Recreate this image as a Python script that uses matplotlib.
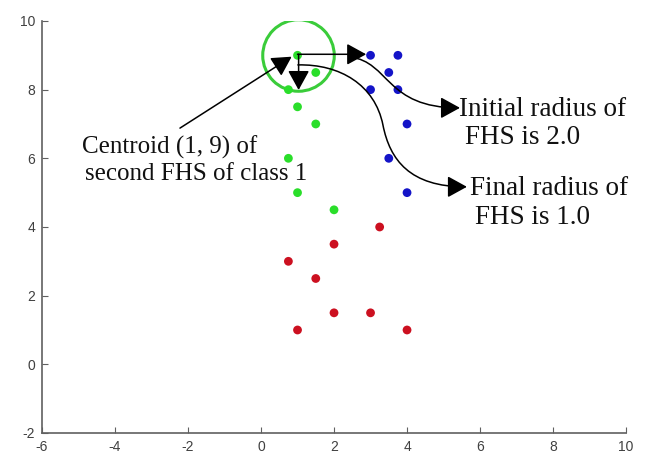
import numpy as np
import matplotlib
matplotlib.use("Agg")
import matplotlib.pyplot as plt
from matplotlib.patches import FancyArrowPatch
from matplotlib.path import Path

# class points
green_x = [1, 1.5, 0.75, 1, 1.5, 0.75, 1, 2]
green_y = [9, 8.5, 8, 7.5, 7, 6, 5, 4.5]
blue_x = [3, 3.75, 3.5, 3, 3.75, 4, 3.5, 4]
blue_y = [9, 9, 8.5, 8, 8, 7, 6, 5]
red_x = [3.25, 2, 0.75, 1.5, 2, 3, 1, 4]
red_y = [4, 3.5, 3, 2.5, 1.5, 1.5, 1, 1]

centroid = (1, 9)
xticks = [-6, -4, -2, 0, 2, 4, 6, 8, 10]
yticks = [-2, 0, 2, 4, 6, 8, 10]

plt.rcParams["axes.unicode_minus"] = False

fig = plt.figure(figsize=(6.6, 4.58), dpi=100)
ax = fig.add_axes([0.0636, 0.0546, 0.885, 0.8996])

ax.scatter(green_x, green_y, s=40, color="#2ade2a", edgecolors="none", zorder=3)
ax.scatter(blue_x, blue_y, s=40, color="#1414c8", edgecolors="none", zorder=3)
ax.scatter(red_x, red_y, s=40, color="#cc1020", edgecolors="none", zorder=3)

# the FHS circle around the centroid
ax.plot(*centroid, marker="o", markersize=51.5, markerfacecolor="none",
        markeredgecolor="#3acc3a", markeredgewidth=2.2, zorder=2)

ax.set_xlim(-6, 10)
ax.set_ylim(-2, 10)
ax.set_xticks(xticks)
ax.set_yticks(yticks)
for s in ["top", "right"]:
    ax.spines[s].set_visible(False)
for s in ["left", "bottom"]:
    ax.spines[s].set_color("#606060")
    ax.spines[s].set_linewidth(1.2)
ax.tick_params(direction="in", length=4, colors="#606060", labelsize=10,
               labelcolor="#404040", pad=5)
for lab in ax.get_xticklabels() + ax.get_yticklabels():
    lab.set_family("Liberation Sans")

head = "-|>,head_length=0.4,head_width=0.22"
arrow_kw = dict(arrowstyle=head, mutation_scale=30, color="black", lw=1.1,
                zorder=4, shrinkA=0, shrinkB=0)

# straight arrows from the centroid
ax.add_patch(FancyArrowPatch((1.0, 9.03), (2.88, 9.03), **arrow_kw))
ax.add_patch(FancyArrowPatch((1.03, 9.03), (1.03, 7.99), **arrow_kw))
ax.add_patch(FancyArrowPatch((-2.22, 6.88), (0.84, 8.96), **arrow_kw))

# curved arrows to the radius notes
p1 = Path([(2.44, 8.95), (3.53, 8.81), (3.40, 7.47), (5.45, 7.47)],
          [Path.MOVETO, Path.CURVE4, Path.CURVE4, Path.CURVE4])
ax.add_patch(FancyArrowPatch(path=p1, **arrow_kw))
p2 = Path([(1.01, 8.72), (2.16, 8.75), (3.12, 8.14), (3.34, 6.97),
           (3.53, 5.95), (4.08, 5.17), (5.64, 5.17)],
          [Path.MOVETO, Path.CURVE4, Path.CURVE4, Path.CURVE4,
           Path.CURVE4, Path.CURVE4, Path.CURVE4])
ax.add_patch(FancyArrowPatch(path=p2, **arrow_kw))

txt = dict(family="Liberation Serif", color="#111111", zorder=5, va="baseline")
ax.text(-4.90, 6.15, "Centroid (1, 9) of", fontsize=18, **txt)
ax.text(-4.82, 5.37, "second FHS of class 1", fontsize=18, **txt)
ax.text(5.43, 7.23, "Initial radius of", fontsize=19.5, **txt)
ax.text(5.59, 6.42, "FHS is 2.0", fontsize=19.5, **txt)
ax.text(5.72, 4.93, "Final radius of", fontsize=19.5, **txt)
ax.text(5.86, 4.09, "FHS is 1.0", fontsize=19.5, **txt)

fig.savefig("out.png", dpi=100)
